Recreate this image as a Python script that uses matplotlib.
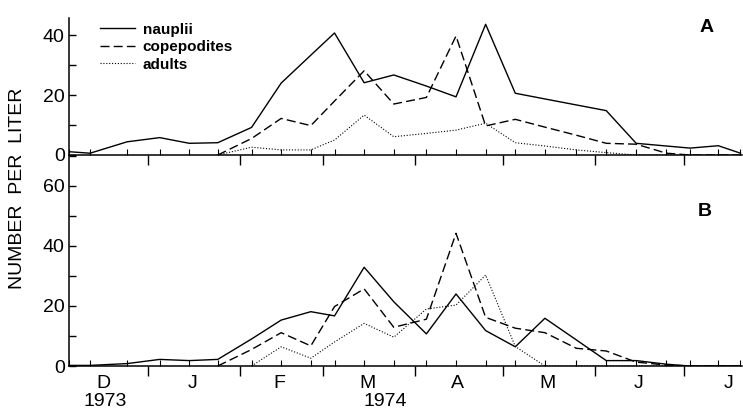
import numpy as np
import matplotlib
matplotlib.use("Agg")
import matplotlib.pyplot as plt

plt.rcParams.update({'font.size': 14})
plt.rcParams['font.family'] = ['Liberation Sans Narrow', 'Liberation Sans', 'DejaVu Sans']

# sampling dates, days relative to 1 Jan 1974
days = [-26.6, -19.5, -7, 4, 14, 23.6, 35, 45, 55, 63, 73, 83, 94, 104,
        114, 124, 134, 144.6, 154.7, 164.8, 175, 183, 192.5, 200]

# panel A
naupliiA = [1.1, 0.6, 4.4, 5.8, 3.9, 4.1, 9.2, 24.0, 33.3, 40.7, 24.1, 26.7,
            23.0, 19.4, 43.6, 20.6, 18.7, 16.7, 14.8, 3.9, 3.0, 2.3, 3.1, 0.6]
copepoditesA = [0, 5.5, 12.2, 9.8, 18.0, 28.1, 17.0, 19.2, 39.7, 9.7, 11.9,
                9.3, 6.6, 3.9, 3.6, 0.6, 0, 0, 0]          # from days[5]
adultsA = [0, 2.6, 1.7, 1.7, 5.0, 13.3, 6.1, 7.2, 8.3, 10.6, 4.1, 3.0, 1.7,
           0.8, 0, 0, 0, 0, 0]                              # from days[5]

# panel B
naupliiB = [0.2, 0.2, 0.8, 2.2, 1.8, 2.2, 9.0, 15.3, 18.1, 16.7, 32.9, 21.4,
            10.7, 24.0, 11.8, 6.4, 15.9, 8.7, 1.8, 1.8, 0.6, 0, 0, 0]
copepoditesB = [0, 5.5, 11.1, 6.7, 19.8, 25.7, 12.9, 15.6, 44.2, 16.2, 12.6,
                11.1, 5.9, 5.0, 1.3, 0.3, 0, 0, 0]          # from days[5]
adultsB = [0, 6.4, 2.6, 8.0, 14.2, 9.6, 19.0, 20.3, 30.3, 6.5, 0, 0, 0, 0,
           0, 0, 0, 0]                                      # from days[6]

monthStarts = [0, 31, 59, 90, 120, 151, 181]
monthMids = [-15, 15, 44.5, 74, 104.5, 135, 165.5, 196]
monthLabels = ["D", "J", "F", "M", "A", "M", "J", "J"]
years = ["1973", "1974"]
yearPos = [-14.5, 80]

styleN = dict(color="black", linewidth=1.0, linestyle="-")
styleC = dict(color="black", linewidth=1.0, linestyle=(0, (6.5, 3)))
styleA = dict(color="black", linewidth=0.8, linestyle=(0, (1, 1.6)))

fig = plt.figure(figsize=(7.43, 4.13), dpi=100)
axA = fig.add_axes([0.0929, 0.6247, 0.9061, 0.3317])
axB = fig.add_axes([0.0929, 0.1138, 0.9061, 0.5109])

d = np.array(days)

axA.plot(d, naupliiA, label="nauplii", **styleN)
axA.plot(d[5:], copepoditesA, label="copepodites", **styleC)
axA.plot(d[5:], adultsA, label="adults", **styleA)

axB.plot(d, naupliiB, **styleN)
axB.plot(d[5:], copepoditesB, **styleC)
axB.plot(d[6:], adultsB, **styleA)

for ax, ymax, yt in [(axA, 45.7, [0, 20, 40]), (axB, 70.3, [0, 20, 40, 60])]:
    ax.set_xlim(-26.6, 200.6)
    ax.set_ylim(0, ymax)
    ax.spines["top"].set_visible(False)
    ax.spines["right"].set_visible(False)
    ax.spines["left"].set_linewidth(1.1)
    ax.spines["bottom"].set_linewidth(1.1)

    ax.set_yticks(yt)
    ax.set_yticks([v + 10 for v in yt if v + 10 < ymax], minor=True)
    ax.tick_params(axis="y", which="both", direction="in", length=5, width=1.0, pad=3, labelsize=14)

    ax.set_xticks(monthStarts)
    ax.set_xticks(days, minor=True)
    ax.tick_params(axis="x", which="major", direction="out", length=7, width=1.0, labelbottom=False)
    ax.tick_params(axis="x", which="minor", direction="in", length=4, width=0.8)
    ax.patch.set_alpha(0)

for x, m in zip(monthMids, monthLabels):
    axB.text(x, -0.085, m, transform=axB.get_xaxis_transform(), ha="center", va="center", fontsize=14)
for x, y in zip(yearPos, years):
    axB.text(x, -0.168, y, transform=axB.get_xaxis_transform(), ha="center", va="center", fontsize=14)

axA.text(0.947, 0.93, "A", transform=axA.transAxes, ha="center", va="center",
         fontsize=14, fontweight="bold", family="Liberation Sans")
axB.text(0.944, 0.73, "B", transform=axB.transAxes, ha="center", va="center",
         fontsize=14, fontweight="bold", family="Liberation Sans")

axA.legend(
    loc="upper left",
    bbox_to_anchor=(0.046, 0.965),
    borderaxespad=0,
    borderpad=0,
    handlelength=2.3,
    handletextpad=0.5,
    labelspacing=0.22,
    frameon=False,
    prop={"family": "Liberation Sans", "weight": "bold", "size": 11}
)

fig.text(0.024, 0.545, "NUMBER  PER  LITER", rotation=90, ha="center", va="center",
         fontsize=14, family="Liberation Sans")

fig.savefig("out.png", dpi=100)
